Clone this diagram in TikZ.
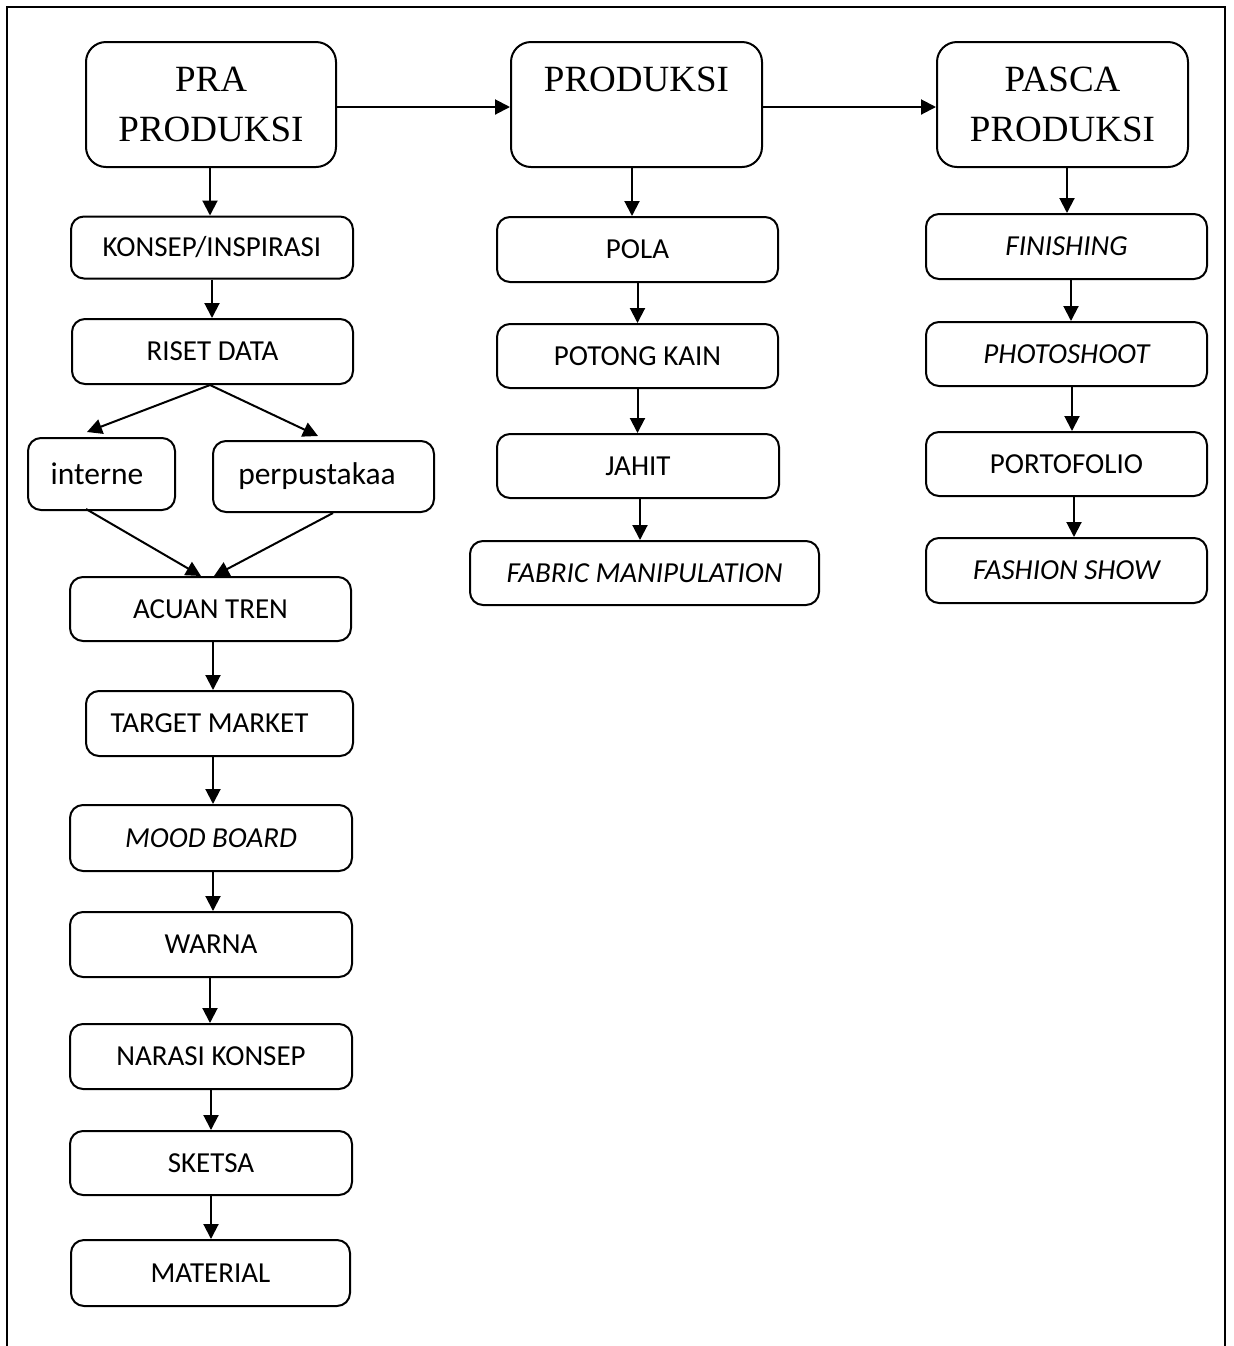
\documentclass[tikz,border=0pt]{standalone}
\usepackage{fontspec}
\setmainfont{Liberation Serif}
\newfontfamily\calib{Carlito}
\usetikzlibrary{arrows.meta,calc}
\begin{document}
\begin{tikzpicture}[x=0.5pt,y=-0.5pt,
  box/.style={draw, line width=1pt, rounded corners=6.5pt, inner sep=0pt,
    font=\calib\fontsize{14.5}{17}\selectfont},
  bigbox/.style={draw, line width=1pt, rounded corners=10pt, inner sep=0pt,
    align=center, font=\fontsize{18.5}{25}\selectfont},
  srcbox/.style={box, font=\calib\fontsize{15.75}{18}\selectfont},
  arr/.style={line width=1pt, -{Triangle[length=7.5pt,width=7.5pt]}},
  frame/.style={line width=0.8pt}]
\useasboundingbox (0,0) rectangle (1234,1346);
\newcommand\vconn[3]{\draw[arr] ([xshift=#3]#1.south) -- ([xshift=#3]#1.south |- #2.north);}
% frame
\draw[frame] (7,1346) -- (7,7) -- (1225,7) -- (1225,1346);
% headers
\node[bigbox, minimum width=125pt, minimum height=62.5pt] (pra) at (211,104.5) {PRA\\PRODUKSI};
\node[bigbox, minimum width=125.5pt, minimum height=62.5pt] (prod) at (636.5,104.5) {PRODUKSI\\\mbox{}};
\node[bigbox, minimum width=125.5pt, minimum height=62.5pt] (pasca) at (1062.5,104.5) {PASCA\\PRODUKSI};
% left column
\node[box, minimum width=141pt, minimum height=31pt] (konsep) at (212,247.5) {KONSEP/INSPIRASI};
\node[box, minimum width=140.5pt, minimum height=32.5pt] (riset) at (212.5,351.5) {RISET DATA};
\node[srcbox, minimum width=73.5pt, minimum height=36pt] (interne) at (101.5,474) {interne\kern4.5pt};
\node[srcbox, minimum width=110.5pt, minimum height=35.5pt] (perp) at (323.5,476.5) {perpustakaa\kern6.5pt};
\node[box, minimum width=140.5pt, minimum height=32pt] (acuan) at (210.5,609) {ACUAN TREN};
\node[box, minimum width=133.5pt, minimum height=32.5pt] (target) at (219.5,723.5) {TARGET MARKET\kern10pt};
\node[box, minimum width=141pt, minimum height=33pt] (mood) at (211,838) {\itshape MOOD BOARD};
\node[box, minimum width=141pt, minimum height=32.5pt] (warna) at (211,944.5) {WARNA};
\node[box, minimum width=141pt, minimum height=32.5pt] (narasi) at (211,1056.5) {NARASI KONSEP};
\node[box, minimum width=141pt, minimum height=32pt] (sketsa) at (211,1163) {SKETSA};
\node[box, minimum width=139.5pt, minimum height=33pt] (material) at (210.5,1273) {MATERIAL};
% middle column
\node[box, minimum width=140.5pt, minimum height=32.5pt] (pola) at (637.5,249.5) {POLA};
\node[box, minimum width=140.5pt, minimum height=32pt] (potong) at (637.5,356) {POTONG KAIN};
\node[box, minimum width=141pt, minimum height=32pt] (jahit) at (638,466) {JAHIT};
\node[box, minimum width=174.5pt, minimum height=32pt] (fabric) at (644.5,573) {\itshape FABRIC MANIPULATION};
% right column
\node[box, minimum width=140.5pt, minimum height=32.5pt] (finishing) at (1066.5,246.5) {\itshape FINISHING};
\node[box, minimum width=140.5pt, minimum height=32pt] (photo) at (1066.5,354) {\itshape PHOTOSHOOT};
\node[box, minimum width=140.5pt, minimum height=32pt] (porto) at (1066.5,464) {PORTOFOLIO};
\node[box, minimum width=140.5pt, minimum height=32.5pt] (fashion) at (1066.5,570.5) {\itshape FASHION SHOW};
% horizontal arrows
\draw[arr] ([yshift=-1.25pt]pra.east) -- ([yshift=-1.25pt]prod.west);
\draw[arr] ([yshift=-1.25pt]prod.east) -- ([yshift=-1.25pt]pasca.west);
% vertical arrows
\vconn{pra}{konsep}{-0.5pt}
\vconn{konsep}{riset}{0pt}
\vconn{acuan}{target}{1.25pt}
\vconn{target}{mood}{-3.25pt}
\vconn{mood}{warna}{1pt}
\vconn{warna}{narasi}{-0.5pt}
\vconn{narasi}{sketsa}{0pt}
\vconn{sketsa}{material}{0pt}
\vconn{prod}{pola}{-2.25pt}
\vconn{pola}{potong}{0pt}
\vconn{potong}{jahit}{0pt}
\vconn{jahit}{fabric}{1pt}
\vconn{pasca}{finishing}{2.25pt}
\vconn{finishing}{photo}{2.25pt}
\vconn{photo}{porto}{2.75pt}
\vconn{porto}{fashion}{3.75pt}
% branching
\draw[arr] ([xshift=-1.25pt]riset.south) -- ($(interne.north)+(-14.5,-5)$);
\draw[arr] ([xshift=-1.25pt]riset.south) -- ($(perp.north)+(-5.5,-4)$);
\draw[arr] ($(interne.south)+(-15.5,-2)$) -- ($(acuan.north)+(-9.5,0)$);
\draw[arr] ($(perp.south)+(9.5,0)$) -- ($(acuan.north)+(3.5,0)$);
\end{tikzpicture}
\end{document}
